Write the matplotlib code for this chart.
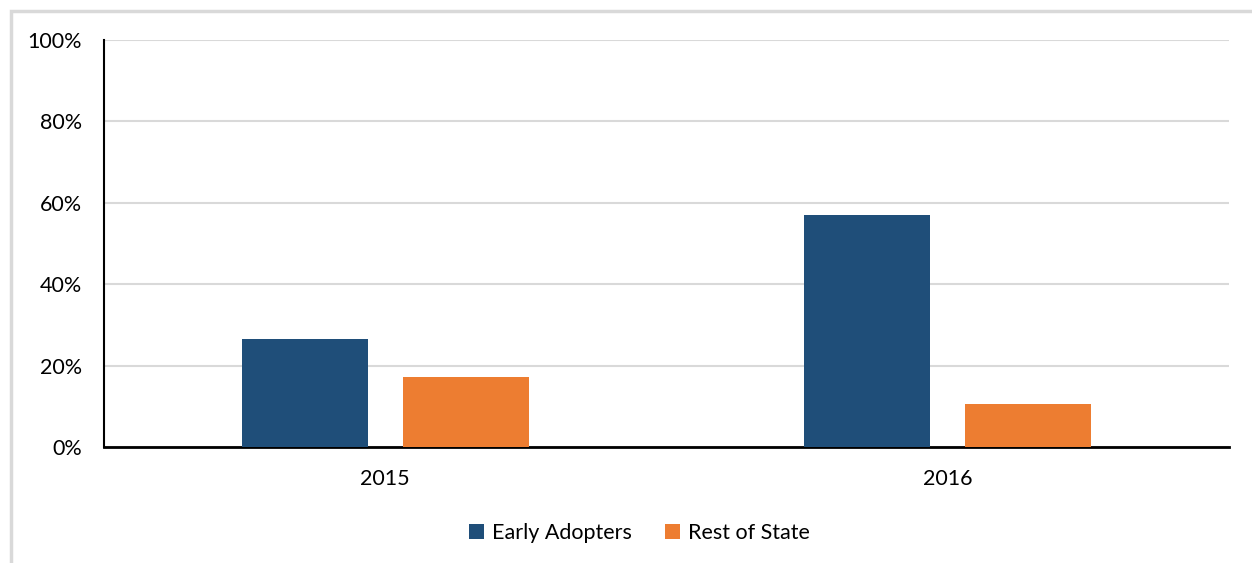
import matplotlib.pyplot as plt
import numpy as np
from matplotlib.patches import Rectangle
from matplotlib.ticker import PercentFormatter

years = ["2015", "2016"]
early_adopters = [26.5, 57.0]
rest_of_state = [17.2, 10.6]

plt.rcParams['font.family'] = ['Lato', 'DejaVu Sans']

fig = plt.figure(figsize=(12.52, 5.63), dpi=100)
ax = fig.add_axes([104 / 1252, 1 - 447 / 563, 1125 / 1252, 407 / 563])

# light grey frame round the chart area
fig.patches.append(Rectangle((11 / 1252, -0.1), 1.2, 1 - 11 / 563 + 0.1,
                             transform=fig.transFigure, fill=False,
                             edgecolor='#d9d9d9', linewidth=2.5))

x = np.arange(len(years))
w = 0.224
off = 0.143
ax.bar(x - off, early_adopters, w, color='#1F4E79', label='Early Adopters', zorder=3)
ax.bar(x + off, rest_of_state, w, color='#ED7D31', label='Rest of State', zorder=3)

ax.set_xlim(-0.5, 1.5)
ax.set_ylim(0, 100)
ax.set_yticks(np.arange(0, 101, 20))
ax.yaxis.set_major_formatter(PercentFormatter(decimals=0))
ax.set_xticks(x)
ax.set_xticklabels(years)
ax.tick_params(axis='both', length=0, labelsize=15.5, colors='black')
ax.tick_params(axis='y', pad=16)
ax.tick_params(axis='x', pad=16)
ax.grid(axis='y', color='#d9d9d9', linewidth=1.5, zorder=0)
for s in ['top', 'right']:
    ax.spines[s].set_visible(False)
ax.spines['left'].set_linewidth(1.5)
ax.spines['bottom'].set_linewidth(2)

ax.legend(loc='upper center', bbox_to_anchor=(0.476, -0.14), ncol=2, frameon=False,
          fontsize=15.5, handlelength=0.7, handleheight=0.7, columnspacing=1.5,
          handletextpad=0.4)

fig.savefig('out.png', dpi=100)
